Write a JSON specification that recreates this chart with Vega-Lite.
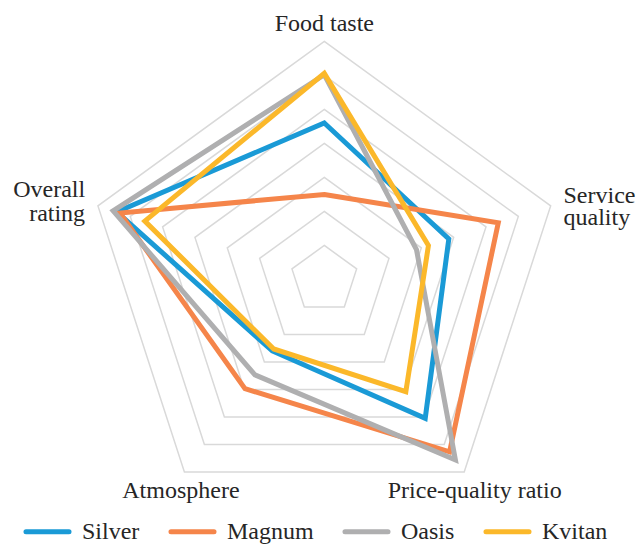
{
  "$schema": "https://vega.github.io/schema/vega-lite/v6.json",
  "width": 638,
  "height": 544,
  "autosize": {"type": "none"},
  "padding": 0,
  "background": "white",
  "config": {"view": {"stroke": null}, "font": "Liberation Serif"},
  "datasets": {
    "criteria": [
      {"criterion": "Food taste", "label": "Food taste"},
      {"criterion": "Service quality", "label": "Service\nquality"},
      {"criterion": "Price-quality ratio", "label": "Price-quality ratio"},
      {"criterion": "Atmosphere", "label": "Atmosphere"},
      {"criterion": "Overall rating", "label": "Overall\nrating"}
    ],
    "rings": [
      {"level": 1, "k": [0, 1, 2, 3, 4]},
      {"level": 2, "k": [0, 1, 2, 3, 4]},
      {"level": 3, "k": [0, 1, 2, 3, 4]},
      {"level": 4, "k": [0, 1, 2, 3, 4]},
      {"level": 5, "k": [0, 1, 2, 3, 4]},
      {"level": 6, "k": [0, 1, 2, 3, 4]},
      {"level": 7, "k": [0, 1, 2, 3, 4]}
    ],
    "scores": [
      {"restaurant": "Silver", "criterion": "Food taste", "score": 4.6},
      {"restaurant": "Silver", "criterion": "Service quality", "score": 3.85},
      {"restaurant": "Silver", "criterion": "Price-quality ratio", "score": 5.05},
      {"restaurant": "Silver", "criterion": "Atmosphere", "score": 2.6},
      {"restaurant": "Silver", "criterion": "Overall rating", "score": 6.42},
      {"restaurant": "Magnum", "criterion": "Food taste", "score": 2.5},
      {"restaurant": "Magnum", "criterion": "Service quality", "score": 5.38},
      {"restaurant": "Magnum", "criterion": "Price-quality ratio", "score": 6.27},
      {"restaurant": "Magnum", "criterion": "Atmosphere", "score": 3.97},
      {"restaurant": "Magnum", "criterion": "Overall rating", "score": 6.32},
      {"restaurant": "Oasis", "criterion": "Food taste", "score": 6.02},
      {"restaurant": "Oasis", "criterion": "Service quality", "score": 2.85},
      {"restaurant": "Oasis", "criterion": "Price-quality ratio", "score": 6.56},
      {"restaurant": "Oasis", "criterion": "Atmosphere", "score": 3.47},
      {"restaurant": "Oasis", "criterion": "Overall rating", "score": 6.53},
      {"restaurant": "Kvitan", "criterion": "Food taste", "score": 6.06},
      {"restaurant": "Kvitan", "criterion": "Service quality", "score": 3.22},
      {"restaurant": "Kvitan", "criterion": "Price-quality ratio", "score": 4.08},
      {"restaurant": "Kvitan", "criterion": "Atmosphere", "score": 2.53},
      {"restaurant": "Kvitan", "criterion": "Overall rating", "score": 5.55}
    ]
  },
  "encoding": {
    "x": {"field": "x", "type": "quantitative", "scale": {"domain": [-9.538, 9.226], "nice": false, "zero": false}, "axis": null},
    "y": {"field": "y", "type": "quantitative", "scale": {"domain": [-7.782, 8.218], "nice": false, "zero": false}, "axis": null}
  },
  "layer": [
    {
      "data": {"name": "rings"},
      "transform": [
        {"flatten": ["k"]},
        {"calculate": "datum.level * sin(datum.k * 2 * PI / 5)", "as": "x"},
        {"calculate": "datum.level * cos(datum.k * 2 * PI / 5)", "as": "y"}
      ],
      "mark": {"type": "line", "interpolate": "linear-closed", "color": "#d9d9d9", "strokeWidth": 1.5},
      "encoding": {
        "detail": {"field": "level", "type": "nominal"},
        "order": {"field": "k", "type": "quantitative"}
      }
    },
    {
      "data": {"name": "scores"},
      "transform": [
        {"calculate": "indexof(['Food taste','Service quality','Price-quality ratio','Atmosphere','Overall rating'], datum.criterion)", "as": "k"},
        {"calculate": "datum.score * sin(datum.k * 2 * PI / 5)", "as": "x"},
        {"calculate": "datum.score * cos(datum.k * 2 * PI / 5)", "as": "y"}
      ],
      "mark": {"type": "line", "interpolate": "linear-closed", "strokeWidth": 5, "strokeJoin": "miter"},
      "encoding": {
        "color": {
          "field": "restaurant",
          "type": "nominal",
          "sort": ["Silver", "Magnum", "Oasis", "Kvitan"],
          "scale": {"domain": ["Silver", "Magnum", "Oasis", "Kvitan"], "range": ["#1a9ad6", "#f5854a", "#afafb0", "#fbb82a"]},
          "legend": {
            "title": null,
            "orient": "none",
            "direction": "horizontal",
            "legendX": 23,
            "legendY": 507,
            "padding": 0,
            "symbolType": "stroke",
            "symbolSize": 1850,
            "symbolStrokeWidth": 5,
            "labelFontSize": 24,
            "labelFont": "Liberation Serif",
            "labelColor": "#262626",
            "labelOffset": 10,
            "columnPadding": 20,
            "encode": {"symbols": {"update": {"strokeCap": {"value": "round"}}}}
          }
        },
        "order": {"field": "k", "type": "quantitative"}
      }
    },
    {
      "data": {"name": "criteria"},
      "transform": [
        {"filter": "datum.criterion === 'Food taste'"},
        {"calculate": "0", "as": "x"},
        {"calculate": "7.35", "as": "y"}
      ],
      "mark": {"type": "text", "align": "center", "baseline": "alphabetic", "dy": 1, "fontSize": 24, "color": "#262626"},
      "encoding": {"text": {"field": "label"}}
    },
    {
      "data": {"name": "criteria"},
      "transform": [
        {"filter": "datum.criterion === 'Service quality'"},
        {"calculate": "7.35 * sin(2 * PI / 5)", "as": "x"},
        {"calculate": "7.35 * cos(2 * PI / 5)", "as": "y"}
      ],
      "mark": {"type": "text", "align": "left", "baseline": "middle", "dx": 1.5, "dy": -6, "lineBreak": "\n", "lineHeight": 22, "fontSize": 24, "color": "#262626"},
      "encoding": {"text": {"field": "label"}}
    },
    {
      "data": {"name": "criteria"},
      "transform": [
        {"filter": "datum.criterion === 'Overall rating'"},
        {"calculate": "7.35 * sin(8 * PI / 5)", "as": "x"},
        {"calculate": "7.35 * cos(8 * PI / 5)", "as": "y"}
      ],
      "mark": {"type": "text", "align": "right", "baseline": "middle", "dx": -1.5, "dy": -12, "lineBreak": "\n", "lineHeight": 24, "fontSize": 24, "color": "#262626"},
      "encoding": {"text": {"field": "label"}}
    },
    {
      "data": {"name": "criteria"},
      "transform": [
        {"filter": "datum.criterion === 'Atmosphere' || datum.criterion === 'Price-quality ratio'"},
        {"calculate": "indexof(['Food taste','Service quality','Price-quality ratio','Atmosphere','Overall rating'], datum.criterion)", "as": "k"},
        {"calculate": "7.35 * sin(datum.k * 2 * PI / 5)", "as": "x"},
        {"calculate": "7.35 * cos(datum.k * 2 * PI / 5)", "as": "y"}
      ],
      "mark": {"type": "text", "align": "center", "baseline": "alphabetic", "dx": 3.5, "dy": 16.4, "fontSize": 24, "color": "#262626"},
      "encoding": {"text": {"field": "label"}}
    }
  ]
}
